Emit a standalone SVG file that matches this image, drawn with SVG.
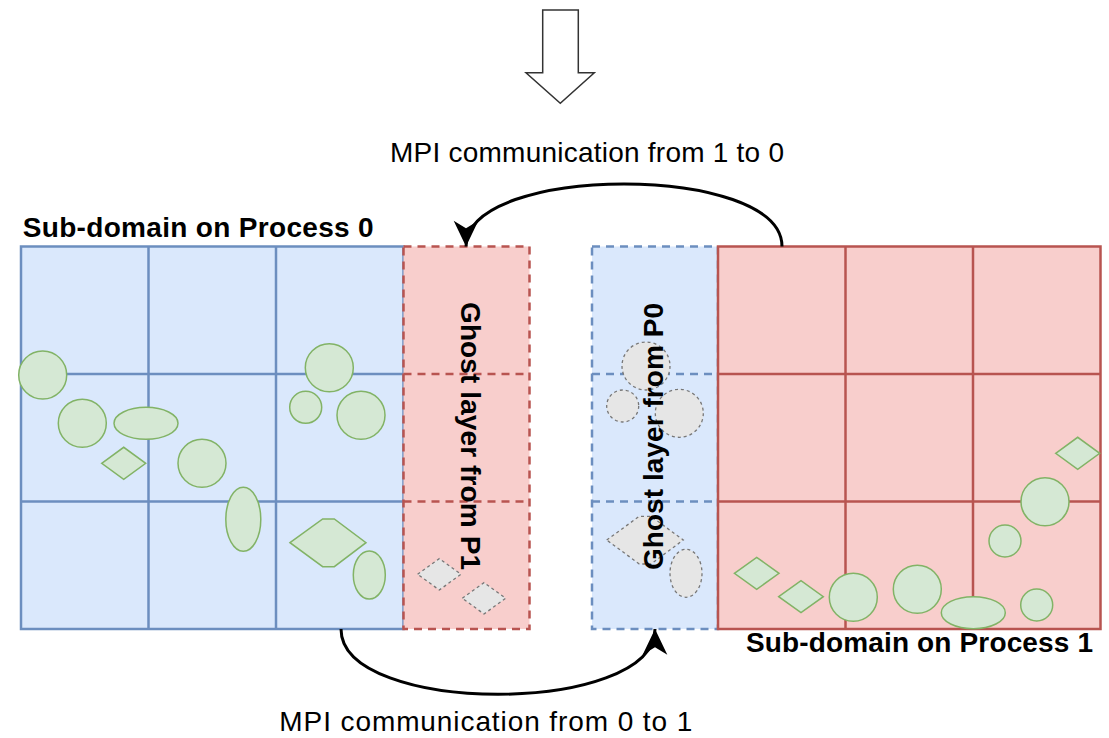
<svg xmlns="http://www.w3.org/2000/svg" width="1109" height="738" viewBox="0 0 1109 738">
<style>
.bg{fill:#ffffff}
.blue{fill:#dae8fc;stroke:#6c8ebf;stroke-width:2.5}
.red{fill:#f8cecc;stroke:#b85450;stroke-width:2.5}
.bl{stroke:#6c8ebf;stroke-width:2.5;fill:none}
.rl{stroke:#b85450;stroke-width:2.5;fill:none}
.dash{stroke-dasharray:8 6}
.p{fill:#d5e8d4;stroke:#82b366;stroke-width:1.5}
.g{fill:#e6e6e6;stroke:#777777;stroke-width:1.3;stroke-dasharray:3 3}
.t{font-family:"Liberation Sans",Arial,Helvetica,sans-serif;fill:#000000}
.b{font-weight:bold;font-size:28px}
.n{font-size:28px}
.conn{fill:none;stroke:#000000;stroke-width:3}
</style>
<defs>
<marker id="arr" markerUnits="userSpaceOnUse" markerWidth="30" markerHeight="30" viewBox="-26 -13 28 26" refX="0" refY="0" orient="auto">
<path d="M0,0 L-24,-11.5 L-17,0 L-24,11.5 Z" fill="#000000"/>
</marker>
</defs>
<rect class="bg" x="0" y="0" width="1109" height="738"/>

<g id="down-arrow">
<polygon points="542.7,10 578.3,10 578.3,72.7 594.3,72.7 560.3,103.3 526,72.7 542.7,72.7" fill="#ffffff" stroke="#333333" stroke-width="1.5"/>
</g>

<g id="subdomain-p0">
<rect class="blue" x="21" y="246.5" width="382.5" height="382.5"/>
<line class="bl" x1="148.5" y1="246.5" x2="148.5" y2="629"/>
<line class="bl" x1="276" y1="246.5" x2="276" y2="629"/>
<line class="bl" x1="21" y1="374" x2="403.5" y2="374"/>
<line class="bl" x1="21" y1="501.5" x2="403.5" y2="501.5"/>
<circle class="p" cx="42.7" cy="375" r="24"/>
<circle class="p" cx="82.3" cy="423.3" r="24"/>
<ellipse class="p" cx="146" cy="423.3" rx="32" ry="16"/>
<polygon class="p" points="101.7,463.3 123.7,447.3 145.7,463.3 123.7,479.3"/>
<circle class="p" cx="202" cy="463.3" r="24"/>
<ellipse class="p" cx="243.3" cy="519.3" rx="17.5" ry="32"/>
<circle class="p" cx="329.3" cy="367.7" r="24"/>
<circle class="p" cx="305.7" cy="407.3" r="16"/>
<circle class="p" cx="361" cy="415.3" r="24"/>
<polygon class="p" points="290,542.7 322.7,519 334.3,519 366,542.7 334.3,566.7 322.7,566.7"/>
<ellipse class="p" cx="369.3" cy="575" rx="16" ry="24"/>
<text class="t b" x="22.7" y="236.7" textLength="351">Sub-domain on Process 0</text>
</g>

<g id="ghost-from-p1">
<rect class="red dash" x="403.5" y="246.5" width="126" height="382.5"/>
<line class="rl dash" x1="403.5" y1="374" x2="529.5" y2="374"/>
<line class="rl dash" x1="403.5" y1="501.5" x2="529.5" y2="501.5"/>
<polygon class="g" points="417.6,574.3 439.3,558.6 461,574.3 439.3,590"/>
<polygon class="g" points="462.3,598.3 484,582.6 505.7,598.3 484,614"/>
<text class="t b" transform="translate(461,302) rotate(90)" x="0" y="0" textLength="268">Ghost layer from P1</text>
</g>

<g id="ghost-from-p0">
<rect class="blue dash" x="592" y="246.5" width="126" height="382.5"/>
<line class="bl dash" x1="592" y1="374" x2="718" y2="374"/>
<line class="bl dash" x1="592" y1="501.5" x2="718" y2="501.5"/>
<circle class="g" cx="646" cy="366" r="24"/>
<circle class="g" cx="622.7" cy="406" r="16"/>
<circle class="g" cx="679.3" cy="413.3" r="24"/>
<polygon class="g" points="606.7,540 639.3,516.3 651,516.3 683.3,540 651,564 639.3,564"/>
<ellipse class="g" cx="686" cy="573.3" rx="16" ry="24"/>
<text class="t b" transform="translate(663,570) rotate(-90)" x="0" y="0" textLength="267">Ghost layer from P0</text>
</g>

<g id="subdomain-p1">
<rect class="red" x="718" y="246.5" width="382.5" height="382.5"/>
<line class="rl" x1="845.5" y1="246.5" x2="845.5" y2="629"/>
<line class="rl" x1="973" y1="246.5" x2="973" y2="629"/>
<line class="rl" x1="718" y1="374" x2="1100.5" y2="374"/>
<line class="rl" x1="718" y1="501.5" x2="1100.5" y2="501.5"/>
<polygon class="p" points="1055.7,453.3 1077.7,437.3 1099.7,453.3 1077.7,469.3"/>
<circle class="p" cx="1045" cy="501.7" r="24"/>
<circle class="p" cx="1005" cy="541" r="16"/>
<polygon class="p" points="734.4,573.3 756.7,557.3 779,573.3 756.7,589.3"/>
<polygon class="p" points="778.7,596.7 801,580.7 823.3,596.7 801,612.7"/>
<circle class="p" cx="853.3" cy="597.3" r="24"/>
<circle class="p" cx="917.3" cy="589.3" r="24"/>
<ellipse class="p" cx="973.3" cy="612.7" rx="32" ry="16"/>
<circle class="p" cx="1036.7" cy="605" r="16"/>
<text class="t b" x="746" y="651.7" textLength="347">Sub-domain on Process 1</text>
</g>

<g id="connectors">
<path class="conn" d="M782,246.5 C782,163 466,163 466,246.5" marker-end="url(#arr)"/>
<path class="conn" d="M341,629 C341,716 655,716 655,629" marker-end="url(#arr)"/>
</g>

<g id="labels">
<text class="t n" x="390" y="161.7" textLength="394">MPI communication from 1 to 0</text>
<text class="t n" x="279.3" y="731" textLength="413">MPI communication from 0 to 1</text>
</g>
</svg>
